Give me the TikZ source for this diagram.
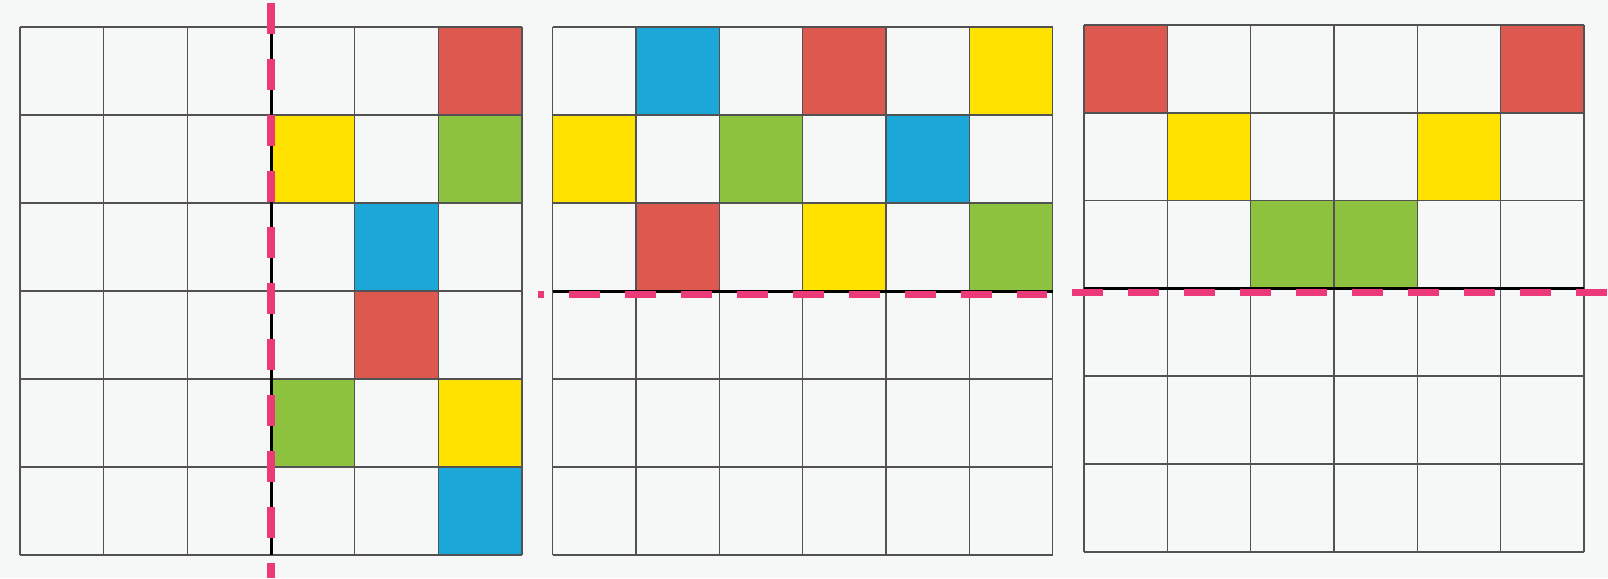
\documentclass[tikz,border=0pt]{standalone}
\usepackage{tikz}

\definecolor{paper}{RGB}{245,248,247}
\definecolor{sqred}{RGB}{221,89,79}
\definecolor{sqyellow}{RGB}{255,226,0}
\definecolor{sqgreen}{RGB}{141,194,62}
\definecolor{sqblue}{RGB}{27,168,216}
\definecolor{foldpink}{RGB}{236,57,121}

\tikzset{
  cellline/.style={line width=1.5pt, draw=black!68},
  axisline/.style={line width=3pt, draw=black},
  foldline/.style={line width=7.5pt, draw=foldpink, dash pattern=on 31pt off 25pt},
}

\begin{document}
\begin{tikzpicture}[x=1pt,y=-1pt]
  \fill[paper] (0,0) rectangle (1608,578);
  \useasboundingbox (0,0) rectangle (1608,578);

  % left grid: vertical axis
  \begin{scope}[shift={(20,27)},x=83.67pt,y=-88pt]
    \foreach \c/\r/\col in {5/0/sqred, 3/1/sqyellow, 5/1/sqgreen, 4/2/sqblue,
                            4/3/sqred, 3/4/sqgreen, 5/4/sqyellow, 5/5/sqblue}
      \fill[\col] (\c,\r) rectangle ++(1,1);
    \foreach \i in {0,...,6} {
      \draw[cellline] (\i,0) -- (\i,6);
      \draw[cellline] (0,\i) -- (6,\i);
    }
    \draw[axisline] (3,0.07) -- (3,6);
  \end{scope}

  % middle grid: horizontal axis
  \begin{scope}[shift={(552.7,27)},x=83.33pt,y=-88pt]
    \foreach \c/\r/\col in {1/0/sqblue, 3/0/sqred, 5/0/sqyellow,
                            0/1/sqyellow, 2/1/sqgreen, 4/1/sqblue,
                            1/2/sqred, 3/2/sqyellow, 5/2/sqgreen}
      \fill[\col] (\c,\r) rectangle ++(1,1);
    \foreach \i in {0,...,6} {
      \draw[cellline] (\i,0) -- (\i,6);
      \draw[cellline] (0,\i) -- (6,\i);
    }
    \draw[axisline] (0,3) -- (6,3);
  \end{scope}

  % right grid: horizontal axis
  \begin{scope}[shift={(1084,25)},x=83.33pt,y=-87.8pt]
    \foreach \c/\r/\col in {0/0/sqred, 5/0/sqred, 1/1/sqyellow, 4/1/sqyellow,
                            2/2/sqgreen, 3/2/sqgreen}
      \fill[\col] (\c,\r) rectangle ++(1,1);
    \foreach \i in {0,...,6} {
      \draw[cellline] (\i,0) -- (\i,6);
      \draw[cellline] (0,\i) -- (6,\i);
    }
    \draw[axisline] (0,3) -- (6,3);
  \end{scope}

  % fold lines
  \draw[foldline] (271,3.3) -- (271,578);
  \draw[foldline,dash phase=24.7pt] (537.7,294.5) -- (1047.4,294.5);
  \draw[foldline] (1071.8,292.5) -- (1608,292.5);
\end{tikzpicture}
\end{document}
